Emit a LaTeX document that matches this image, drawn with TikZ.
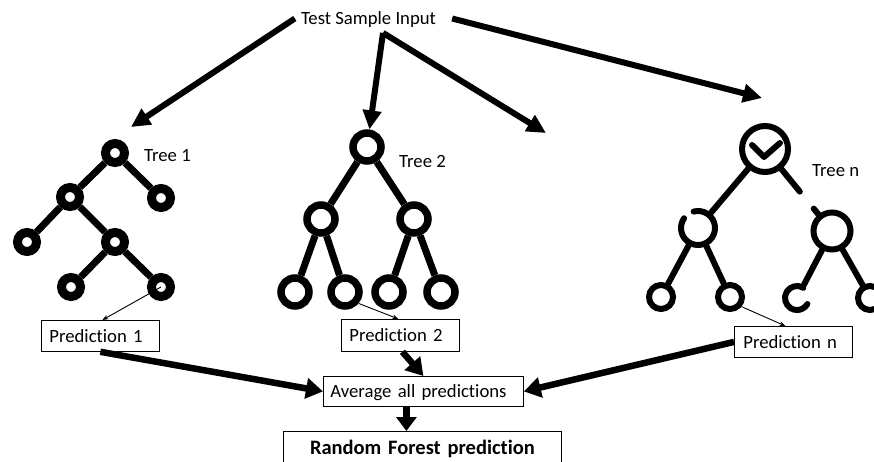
\documentclass[tikz,border=0pt]{standalone}
\usepackage{fontspec}
\setmainfont{Carlito}[Ligatures=NoCommon]
\usetikzlibrary{arrows.meta,calc}
\begin{document}
\begin{tikzpicture}[x=1pt,y=1pt,
  txt/.style={font=\fontsize{18.7}{22}\selectfont, inner sep=0pt},
  box/.style={draw, line width=0.8pt, font=\fontsize{18.7}{22}\selectfont, inner ysep=0pt,
    text height=12.7pt, text depth=0pt, anchor=north west, align=left, minimum height=31pt},
  ringA/.style={circle, draw, line width=9pt, minimum size=19pt, inner sep=0pt},
  ringB/.style={circle, draw, line width=7.5pt, minimum size=28pt, inner sep=0pt},
  ringC/.style={circle, draw, line width=6pt, inner sep=0pt},
  holdC/.style={circle, inner sep=0pt, outer sep=3pt},
  edgeA/.style={line width=7pt},
  edgeC/.style={line width=6pt, line cap=round, line join=round},
  bigarrow/.style={line width=6pt, -{Triangle[length=19pt,width=18pt]}},
  fatarrow/.style={line width=6.5pt, -{Triangle[length=17pt,width=20pt]}},
  thinarrow/.style={line width=0.9pt, -{Stealth[length=6pt,width=4.5pt]}},
]
\useasboundingbox (0,0) rectangle (874,461);

% input text
\node[txt, anchor=base, inner xsep=6pt, inner ysep=4pt, text height=12.7pt, text depth=3.7pt] (inp) at (368.5,436) {Test Sample Input};

% Tree 1
\node[ringA] (t1r) at (115,308) {};
\node[ringA] (t1a) at (70,264) {};
\node[ringA] (t1b) at (161,263) {};
\node[ringA] (t1c) at (27,219) {};
\node[ringA] (t1d) at (115,219) {};
\node[ringA] (t1e) at (71,174) {};
\node[ringA] (t1f) at (161,174) {};
\foreach \a/\b in {t1r/t1a, t1r/t1b, t1a/t1c, t1a/t1d, t1d/t1e, t1d/t1f}
  \draw[edgeA] (\a) -- (\b);
\node[txt, anchor=base west] (l1) at (144,299) {Tree 1};

% Tree 2
\node[ringB] (t2r) at (367,314) {};
\node[ringB] (t2a) at (321,242) {};
\node[ringB] (t2b) at (414,242) {};
\node[ringB] (t2c) at (295,169) {};
\node[ringB] (t2d) at (345,169) {};
\node[ringB] (t2e) at (389,169) {};
\node[ringB] (t2f) at (441,169) {};
\foreach \a/\b in {t2r/t2a, t2r/t2b, t2a/t2c, t2a/t2d, t2b/t2e, t2b/t2f}
  \draw[edgeA] (\a) -- (\b);
\node[txt, anchor=base west] (l2) at (399,293) {Tree 2};

% Tree n
\node[ringC, minimum size=46pt] (tnr) at (765,312) {};
\node[holdC, minimum size=34pt] (tna) at (698,233) {};
\node[ringC, minimum size=37pt] (tnb) at (832,230) {};
\node[ringC, minimum size=24pt] (tnc) at (661,164) {};
\node[ringC, minimum size=24pt] (tnd) at (730,164) {};
\node[holdC, minimum size=24pt] (tne) at (797,163) {};
\node[ringC, minimum size=24pt] (tnf) at (870,163) {};
\draw[edgeC] (tna.center) ++(145:17pt) arc[start angle=145, end angle=465, radius=17pt];
\draw[edgeC] (tne.center) ++(58:12pt) arc[start angle=58, end angle=330, radius=12pt];
\draw[edgeC] ($(tnr)+(-13,4)$) -- ($(tnr)+(-1,-8)$) -- ($(tnr)+(15,6)$);
\draw[edgeC] (tnr) -- (tna);
\draw[edgeC, shorten >=29.4pt] (tnr) -- (tnb);
\draw[edgeC, shorten <=51pt] (tnr) -- (tnb);
\foreach \a/\b in {tna/tnc, tna/tnd, tnb/tne, tnb/tnf}
  \draw[edgeC] (\a) -- (\b);
\node[txt, anchor=base west] (ln) at (812,284) {Tree n};

% boxes
\node[box, minimum width=118pt, text width=102pt, inner xsep=8pt] (p1) at (41,141) {Prediction 1};
\node[box, minimum width=118pt, minimum height=32pt, text width=102pt, inner xsep=8pt] (p2) at (341,142) {Prediction 2};
\node[box, minimum width=118pt, text width=100pt, inner xsep=9pt] (pn) at (734,135) {Prediction n};
\node[box, minimum width=200pt, minimum height=30pt, text width=186pt, inner xsep=7pt] (avg) at (323,85) {Average all predictions};
\node[box, minimum width=278pt, minimum height=32pt, text width=270pt, inner xsep=4pt, align=center,
  font=\bfseries\fontsize{20.5}{24}\selectfont, text height=13.9pt] (rf) at (283,30) {Random Forest prediction};

% arrows from input
\coordinate (a1) at (131,334);
\coordinate (a3) at (546,328);
\coordinate (a4) at (762,363);
\draw[bigarrow] ([yshift=2pt]inp.west) -- (a1);
\draw[bigarrow] ([xshift=14.5pt]inp.south) -- (t2r);
\draw[bigarrow] ([xshift=14.5pt]inp.south) -- (a3);
\draw[bigarrow] ([xshift=10pt,yshift=2pt]inp.east) -- (a4);

% thin arrows
\draw[thinarrow] (t1f.center) -- ([xshift=2pt]p1.north);
\draw[thinarrow] (t2d.-40) -- ([xshift=-2pt]p2.north);
\draw[thinarrow] (tnd.-40) -- ([xshift=-8pt]pn.north);

% bottom arrows
\draw[fatarrow] (p1.south) -- (avg.west);
\draw[fatarrow] ([xshift=2pt]p2.south) -- (avg.north);
\draw[fatarrow] (pn.west) -- (avg.east);
\draw[fatarrow, -{Triangle[length=14pt,width=20pt]}] ([xshift=-17pt]avg.south) -- ([xshift=-16pt]rf.north);
\end{tikzpicture}
\end{document}
